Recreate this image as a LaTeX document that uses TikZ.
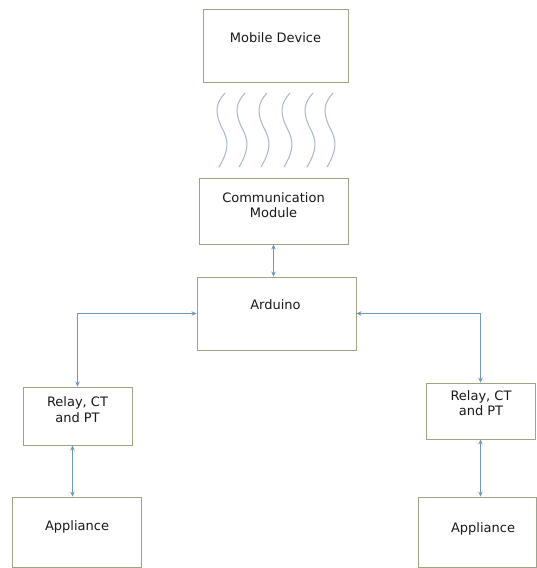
\documentclass[tikz,border=0pt]{standalone}
\usepackage{fontspec}
\setmainfont{DejaVu Sans}
\usetikzlibrary{arrows.meta}
\definecolor{boxline}{HTML}{9CA584}
\definecolor{arrowc}{HTML}{6F98BE}
\definecolor{wavec}{HTML}{A9B6CC}
\begin{document}
\begin{tikzpicture}[x=1pt,y=-1pt,
  boxnode/.style={draw=boxline,line width=0.9pt,fill=white,inner sep=0pt},
  txt/.style={font=\fontsize{13}{15.5}\selectfont,align=center,text=black!90,inner sep=0pt},
  link/.style={draw=arrowc,line width=1.1pt,{Stealth[length=5pt,width=4.5pt]}-{Stealth[length=5pt,width=4.5pt]}},
  wave/.style={draw=wavec,line width=1pt}]
\useasboundingbox[fill=white] (0,0) rectangle (536,568);
% boxes
\node[boxnode,minimum width=145pt,minimum height=73pt] (mob) at (275.5,45.5) {};
\node[boxnode,minimum width=149pt,minimum height=66pt] (com) at (273.5,211) {};
\node[boxnode,minimum width=159pt,minimum height=73pt] (ard) at (276.5,313.5) {};
\node[boxnode,minimum width=109pt,minimum height=58pt] (rl) at (77.5,416) {};
\node[boxnode,minimum width=109pt,minimum height=56pt] (rr) at (480.5,411) {};
\node[boxnode,minimum width=129pt,minimum height=70pt] (al) at (76.5,532) {};
\node[boxnode,minimum width=118pt,minimum height=70pt] (ar) at (477,532) {};
% texts
\node[txt] (mobt) at (275.5,38) {Mobile Device};
\node[txt] (comt) at (273.5,205) {Communication\\Module};
\node[txt] (ardt) at (275.5,305) {Arduino};
\node[txt] (rlt) at (77.5,409.5) {Relay, CT\\and PT};
\node[txt] (rrt) at (481,403) {Relay, CT\\and PT};
\node[txt] (alt) at (77,527) {Appliance};
\node[txt] (art) at (483,529) {Appliance};
% waves
\foreach \c in {220,240,262,285,308,328}{
  \draw[wave] (\c+5,93) .. controls (\c-4,103) and (\c-6,112) .. (\c+2,128)
     .. controls (\c+9,141) and (\c+9,150) .. (\c-1,167);
}
% connectors
\draw[link] (com.south) -- (com.south |- ard.north);
\draw[link] (ard.west) -| (rl.north);
\draw[link] (ard.east) -| (rr.north);
\draw[link] ([xshift=-5pt]rl.south) -- ([xshift=-5pt]rl.south |- al.north);
\draw[link] (rr.south) -- (rr.south |- ar.north);
\end{tikzpicture}
\end{document}
